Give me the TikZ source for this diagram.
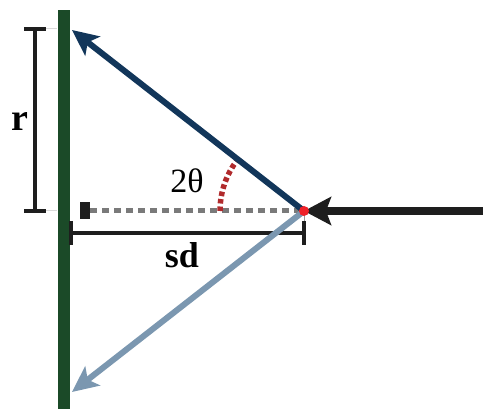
\documentclass[tikz,border=0pt]{standalone}
\usepackage{fontspec}
\setmainfont{Liberation Serif}
\usetikzlibrary{arrows.meta}
\definecolor{wallgreen}{HTML}{1B4A28}
\definecolor{navy}{HTML}{12365A}
\definecolor{steel}{HTML}{7B97B0}
\definecolor{dashgray}{HTML}{7A7A7A}
\definecolor{arcred}{HTML}{B02A2C}
\definecolor{dotred}{HTML}{EE2229}
\definecolor{ink}{HTML}{1E1E1E}
\tikzset{
  ray/.style={line width=6pt, -{Stealth[length=26pt,width=24pt,inset=6pt]}},
  incoming/.style={line width=8pt, ink, -{Stealth[length=27pt,width=28pt,inset=5pt]}},
  dimline/.style={line width=3.5pt, ink},
  dimtick/.style={line width=4pt, ink},
  lbl/.style={inner sep=0pt, font=\fontsize{34}{40}\selectfont}
}
\begin{document}
\begin{tikzpicture}[x=1pt,y=-1pt]
\useasboundingbox (0,0) rectangle (483,409);
% wall
\fill[wallgreen] (58,10) rectangle (70,409);
% key points
\coordinate (P) at (304,211);
\coordinate (T1) at (72,30);
\coordinate (T2) at (72,392);
\coordinate (S) at (483,211);
\coordinate (D0) at (90,211);
% dashed normal
\draw[dashgray, line width=5pt, dash pattern=on 7pt off 5pt] (D0) -- (P);
\fill[ink] (80,202) rectangle (90,219);
% r dimension
\coordinate (R1) at (35,29);
\coordinate (R2) at (35,211);
\draw[dimline] (R1) -- (R2);
\draw[dimtick] (24,29) -- (46,29);
\draw[dimtick] (24,211) -- (46,211);
\draw[black!15, line width=1pt] (46,29) -- (57,29);
\draw[black!15, line width=1pt] (46,211) -- (57,211);
\node[lbl, font=\fontsize{38}{40}\selectfont\bfseries] (r) at (20,122) {r};
% sd dimension
\coordinate (Q1) at (71,233);
\coordinate (Q2) at (304,233);
\draw[dimline] (Q1) -- (Q2);
\draw[dimtick] (71,221) -- (71,245);
\draw[dimtick] (304,221) -- (304,245);
\draw[black!40, line width=1pt] (P) -- (304,221);
\node[lbl, font=\fontsize{36}{40}\selectfont\bfseries] (sd) at (182,255) {sd};
% angle arc
\draw[arcred, line width=5.5pt, dash pattern=on 4.5pt off 3pt] ([shift={(180:84)}]P) arc[start angle=180, end angle=218, radius=84];
\node[lbl] (ang) at (187,181) {2θ};
% rays
\draw[ray, navy] (P) -- (T1);
\draw[ray, steel] (P) -- (T2);
\draw[incoming] (S) -- (P);
% source point
\node[circle, fill=dotred, minimum size=10pt, inner sep=0pt] (dot) at (P) {};
\end{tikzpicture}
\end{document}
